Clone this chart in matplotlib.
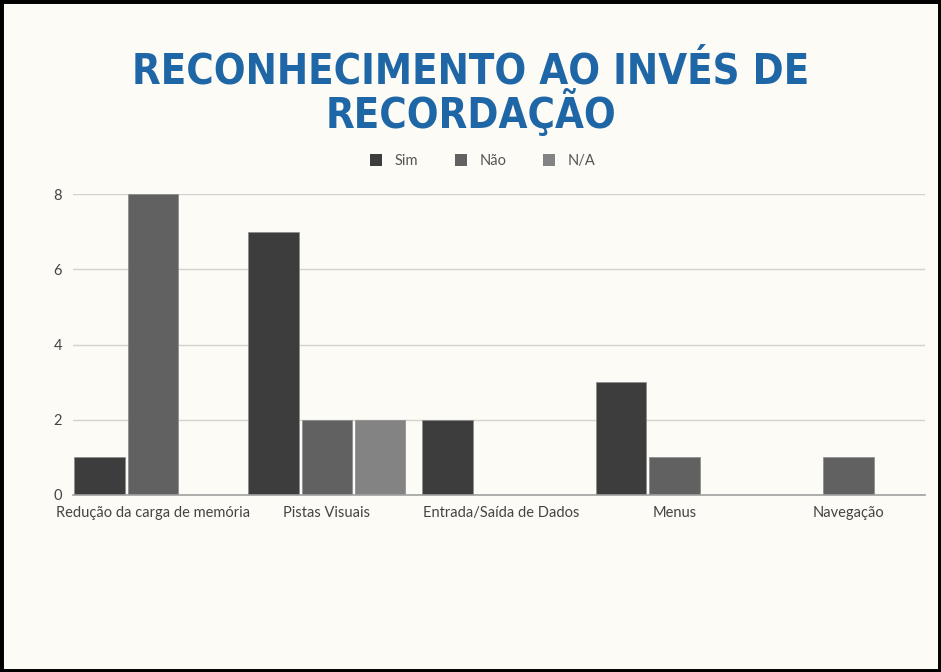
import matplotlib
matplotlib.use("Agg")
import matplotlib.pyplot as plt
import numpy as np
from matplotlib.patches import Rectangle

categories = ["Redução da carga de memória", "Pistas Visuais", "Entrada/Saída de Dados", "Menus", "Navegação"]
series_names = ["Sim", "Não", "N/A"]
sim = [1, 7, 2, 3, 0]
nao = [8, 2, 0, 1, 1]
na = [0, 2, 0, 0, 0]
yticks = [0, 2, 4, 6, 8]
title_lines = ["RECONHECIMENTO AO INVÉS DE", "RECORDAÇÃO"]

colors = ["#3d3d3d", "#616161", "#838383"]
bg = "#fdfbf6"

W, H = 941, 672
fig = plt.figure(figsize=(W / 100, H / 100), dpi=100)
fig.patch.set_facecolor(bg)

# border
fig.patches.append(Rectangle((0, 0), 1, 1, transform=fig.transFigure, fill=False,
                             edgecolor="black", linewidth=5, zorder=10))

ax_l, ax_r, ax_b, ax_t = 73, 925, 495, 194
ax = fig.add_axes([ax_l / W, 1 - ax_b / H, (ax_r - ax_l) / W, (ax_b - ax_t) / H])
ax.set_facecolor(bg)

x = np.arange(len(categories))
w = 0.29
off = 0.307
for k, vals in enumerate([sim, nao, na]):
    ax.bar(x + (k - 1) * off, vals, width=w, color=colors[k], edgecolor="#8a8a8a",
           linewidth=0.5, label=series_names[k], zorder=3)

ax.set_xlim(-0.46, 4.44)
ax.set_ylim(0, 8)
ax.set_yticks(yticks)
ax.set_yticklabels([str(v) for v in yticks])
ax.grid(axis="y", color="#d4d2cc", linewidth=1, zorder=0)
ax.set_axisbelow(True)
for s in ["top", "right", "left"]:
    ax.spines[s].set_visible(False)
ax.spines["bottom"].set_color("#a0a0a0")
ax.spines["bottom"].set_linewidth(1.2)
ax.spines["bottom"].set_zorder(4)
ax.set_xticks(x)
ax.set_xticklabels(categories)
ax.tick_params(axis="both", length=0, labelsize=10.5, labelcolor="#444444")
ax.tick_params(axis="x", pad=8)
ax.tick_params(axis="y", pad=8)
for lbl in ax.get_xticklabels() + ax.get_yticklabels():
    lbl.set_fontfamily("Lato")

for i, (line, yc) in enumerate(zip(title_lines, [71, 113])):
    fig.text(471 / W, 1 - yc / H, line, ha="center", va="center", fontsize=30,
             fontweight="bold", fontstretch="condensed", color="#1e66a6",
             family="DejaVu Sans")

leg = fig.legend(loc="center", bbox_to_anchor=(483 / W, 1 - 161 / H), ncol=3, frameon=False,
                 handlelength=0.8, handleheight=0.8, handletextpad=0.9, columnspacing=2.5,
                 prop={"family": "Lato", "size": 10.5})
for t in leg.get_texts():
    t.set_color("#555555")
for p in leg.get_patches():
    p.set_edgecolor("none")

fig.savefig("out.png", dpi=100, facecolor=bg)
